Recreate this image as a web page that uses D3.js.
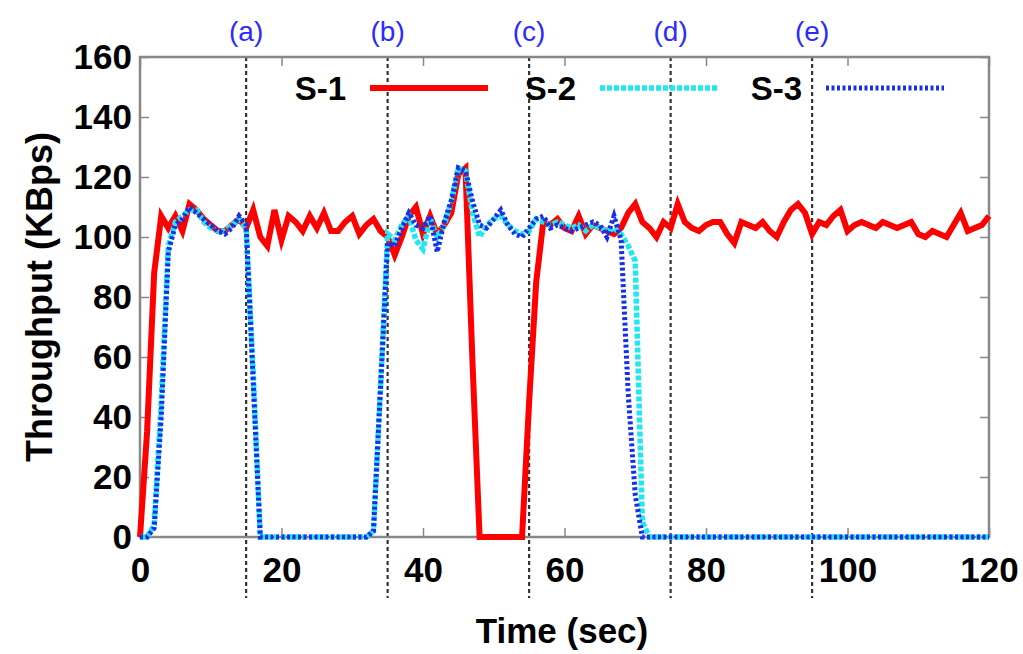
<!DOCTYPE html>
<html>
<head>
<meta charset="utf-8">
<script src="https://cdn.jsdelivr.net/npm/d3@7"></script>
<style>
  html, body { margin: 0; padding: 0; background: #fff; }
  svg { display: block; font-family: "Liberation Sans", Arial, sans-serif; }
</style>
</head>
<body>
<div id="chart"></div>
<script>
// Data (sampled every second)
const seconds = [
  0, 1, 2, 3, 4, 5, 6, 7, 8, 9, 10, 11, 12, 13, 14, 15, 16, 17, 18, 19,
  20, 21, 22, 23, 24, 25, 26, 27, 28, 29, 30, 31, 32, 33, 34, 35, 36, 37, 38, 39,
  40, 41, 42, 43, 44, 45, 46, 47, 48, 49, 50, 51, 52, 53, 54, 55, 56, 57, 58, 59,
  60, 61, 62, 63, 64, 65, 66, 67, 68, 69, 70, 71, 72, 73, 74, 75, 76, 77, 78, 79,
  80, 81, 82, 83, 84, 85, 86, 87, 88, 89, 90, 91, 92, 93, 94, 95, 96, 97, 98, 99,
  100, 101, 102, 103, 104, 105, 106, 107, 108, 109, 110, 111, 112, 113, 114, 115, 116, 117, 118, 119,
  120
];

const s1 = [
  0, 35, 88, 107, 103, 107, 102, 111, 109, 106,
  104, 102, 102, 104, 106, 103, 109, 100, 97, 109,
  99, 107, 105, 102, 107, 103, 108, 102, 102, 105,
  107, 101, 104, 106, 102, 100, 94, 100, 107, 110,
  101, 107, 101, 104, 108, 121, 123, 58, 0, 0,
  0, 0, 0, 0, 0, 45, 85, 105, 104, 106,
  103, 102, 107, 101, 104, 103, 102, 101, 103, 108,
  111, 105, 103, 100, 105, 103, 111, 105, 103, 102,
  104, 105, 105, 101, 98, 105, 104, 103, 105, 102,
  100, 105, 109, 111, 108, 101, 105, 104, 107, 109,
  102, 104, 105, 104, 103, 105, 104, 103, 104, 105,
  101, 100, 102, 101, 100, 104, 108, 102, 103, 104,
  107
];

const s2 = [
  0, 0, 4, 45, 97, 105, 107, 109, 109, 105,
  103, 102, 102, 104, 106, 103, 55, 0, 0, 0,
  0, 0, 0, 0, 0, 0, 0, 0, 0, 0,
  0, 0, 0, 2, 50, 101, 99, 104, 107, 99,
  96, 106, 100, 104, 112, 123, 122, 108, 100, 104,
  106, 107, 104, 102, 101, 102, 106, 105, 104, 105,
  104, 103, 104, 102, 104, 103, 102, 103, 101, 97,
  92, 5, 0, 0, 0, 0, 0, 0, 0, 0,
  0, 0, 0, 0, 0, 0, 0, 0, 0, 0,
  0, 0, 0, 0, 0, 0, 0, 0, 0, 0,
  0, 0, 0, 0, 0, 0, 0, 0, 0, 0,
  0, 0, 0, 0, 0, 0, 0, 0, 0, 0,
  0
];

const s3 = [
  0, 0, 3, 40, 95, 104, 106, 110, 108, 106,
  104, 102, 101, 103, 107, 104, 52, 0, 0, 0,
  0, 0, 0, 0, 0, 0, 0, 0, 0, 0,
  0, 0, 0, 2, 50, 98, 97, 103, 108, 104,
  103, 107, 95, 105, 112, 123, 122, 112, 104, 103,
  106, 109, 104, 101, 100, 103, 106, 107, 103, 104,
  103, 102, 103, 104, 105, 104, 100, 107, 99, 48,
  14, 0, 0, 0, 0, 0, 0, 0, 0, 0,
  0, 0, 0, 0, 0, 0, 0, 0, 0, 0,
  0, 0, 0, 0, 0, 0, 0, 0, 0, 0,
  0, 0, 0, 0, 0, 0, 0, 0, 0, 0,
  0, 0, 0, 0, 0, 0, 0, 0, 0, 0,
  0
];

const seriesNames = ["S-1", "S-2", "S-3"];
const eventTimes = [15, 35, 55, 75, 95];
const eventLabels = ["(a)", "(b)", "(c)", "(d)", "(e)"];
const xTicks = [0, 20, 40, 60, 80, 100, 120];
const yTicks = [0, 20, 40, 60, 80, 100, 120, 140, 160];

// Config
const width = 1023, height = 654;
const plot = { left: 140, right: 989, top: 57, bottom: 537 };
const styles = [
  { color: "#ff0000", width: 6, dash: null },
  { color: "#22e6f2", width: 5.5, dash: "5,2" },
  { color: "#1530e8", width: 5, dash: "3,2.5" }
];

const svg = d3.select("#chart").append("svg")
  .attr("width", width)
  .attr("height", height);

const x = d3.scaleLinear().domain([0, 120]).range([plot.left, plot.right]);
const y = d3.scaleLinear().domain([0, 160]).range([plot.bottom, plot.top]);

// Event markers (dashed verticals)
svg.selectAll(".event-line")
  .data(eventTimes)
  .join("line")
  .attr("class", "event-line")
  .attr("x1", d => x(d)).attr("x2", d => x(d))
  .attr("y1", plot.top).attr("y2", 598)
  .attr("stroke", "#333")
  .attr("stroke-width", 2.2)
  .attr("stroke-dasharray", "4,3");

svg.selectAll(".event-label")
  .data(eventTimes)
  .join("text")
  .attr("class", "event-label")
  .attr("x", d => x(d))
  .attr("y", 41)
  .attr("text-anchor", "middle")
  .attr("fill", "#2b2bff")
  .style("font-size", "28px")
  .text((d, i) => eventLabels[i]);

// Axes (ticks inward, mirrored)
const axisColor = "#888";
function styleAxis(g) {
  g.select(".domain").remove();
  g.selectAll(".tick line").attr("stroke", axisColor).attr("stroke-width", 1.5);
  g.selectAll(".tick text")
    .attr("fill", "#000")
    .style("font-size", "35px")
    .style("font-weight", "bold")
    .style("font-family", "'Liberation Sans', Arial, sans-serif");
}

svg.append("g")
  .attr("transform", `translate(0,${plot.bottom})`)
  .call(d3.axisBottom(x).tickValues(xTicks).tickSizeInner(-9).tickSizeOuter(0).tickPadding(20))
  .call(styleAxis);

svg.append("g")
  .attr("transform", `translate(0,${plot.top})`)
  .call(d3.axisTop(x).tickValues(xTicks).tickSizeInner(-9).tickSizeOuter(0).tickFormat(""))
  .call(styleAxis);

svg.append("g")
  .attr("transform", `translate(${plot.left},0)`)
  .call(d3.axisLeft(y).tickValues(yTicks).tickSizeInner(-9).tickSizeOuter(0).tickPadding(8))
  .call(styleAxis);

svg.append("g")
  .attr("transform", `translate(${plot.right},0)`)
  .call(d3.axisRight(y).tickValues(yTicks).tickSizeInner(-9).tickSizeOuter(0).tickFormat(""))
  .call(styleAxis);

// Frame
svg.append("rect")
  .attr("x", plot.left).attr("y", plot.top)
  .attr("width", plot.right - plot.left)
  .attr("height", plot.bottom - plot.top)
  .attr("fill", "none")
  .attr("stroke", axisColor)
  .attr("stroke-width", 2.5);

// Lines
const line = d3.line()
  .x((d, i) => x(seconds[i]))
  .y(d => y(d));

[s1, s2, s3].forEach((vals, i) => {
  svg.append("path")
    .datum(vals)
    .attr("d", line)
    .attr("fill", "none")
    .attr("stroke", styles[i].color)
    .attr("stroke-width", styles[i].width)
    .attr("stroke-linejoin", "miter")
    .attr("stroke-dasharray", styles[i].dash);
});

// Legend
const legendTextX = [346, 576, 802];
const legendY = 88;
const legend = svg.selectAll(".legend")
  .data(seriesNames)
  .join("g")
  .attr("class", "legend");

legend.append("text")
  .attr("x", (d, i) => legendTextX[i])
  .attr("y", legendY + 12)
  .attr("text-anchor", "end")
  .style("font-size", "33px")
  .style("font-weight", "bold")
  .text(d => d);

legend.append("line")
  .attr("x1", (d, i) => legendTextX[i] + 24)
  .attr("x2", (d, i) => legendTextX[i] + 142)
  .attr("y1", legendY).attr("y2", legendY)
  .attr("stroke", (d, i) => styles[i].color)
  .attr("stroke-width", (d, i) => styles[i].width)
  .attr("stroke-dasharray", (d, i) => styles[i].dash);

// Axis titles
svg.append("text")
  .attr("x", 562)
  .attr("y", 643)
  .attr("text-anchor", "middle")
  .style("font-size", "35px")
  .style("font-weight", "bold")
  .text("Time (sec)");

svg.append("text")
  .attr("transform", "translate(52,297) rotate(-90)")
  .attr("text-anchor", "middle")
  .style("font-size", "36px")
  .style("font-weight", "bold")
  .text("Throughput (KBps)");
</script>
</body>
</html>
